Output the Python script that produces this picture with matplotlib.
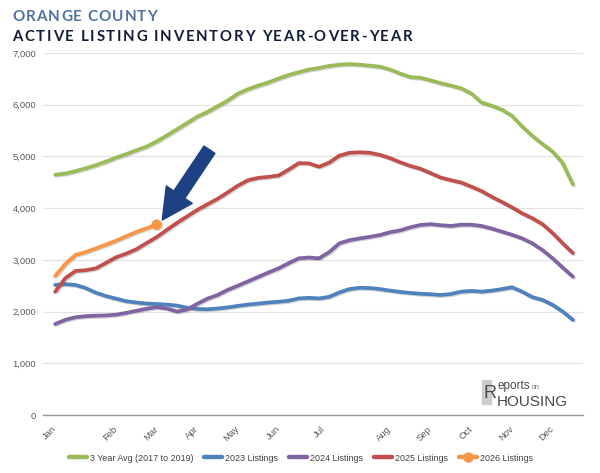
import numpy as np
import matplotlib
matplotlib.use('Agg')
import matplotlib.pyplot as plt
from matplotlib.patches import FancyArrowPatch, ArrowStyle, Rectangle
import matplotlib.patheffects as pe

# weekly active listings (week 0 = first week of Jan)
avg_3yr = [4645, 4670, 4715, 4770, 4830, 4900, 4975, 5045, 5120, 5190, 5290, 5405, 5525,
           5645, 5770, 5860, 5970, 6080, 6215, 6300, 6370, 6430, 6505, 6575, 6630, 6680,
           6710, 6750, 6775, 6785, 6775, 6755, 6735, 6680, 6600, 6535, 6520, 6470, 6415,
           6370, 6315, 6215, 6045, 5980, 5905, 5785, 5580, 5400, 5240, 5095, 4870, 4460]
listings_2023 = [2515, 2530, 2515, 2455, 2365, 2300, 2250, 2200, 2175, 2155, 2145, 2135, 2115,
                 2075, 2050, 2045, 2060, 2080, 2110, 2135, 2155, 2175, 2190, 2210, 2255, 2265,
                 2255, 2285, 2370, 2435, 2460, 2455, 2435, 2405, 2380, 2360, 2345, 2335, 2320,
                 2340, 2385, 2400, 2385, 2405, 2435, 2470, 2385, 2280, 2225, 2130, 2000, 1840]
listings_2024 = [1760, 1840, 1890, 1910, 1920, 1925, 1940, 1975, 2015, 2055, 2085, 2060, 2000,
                 2040, 2150, 2250, 2320, 2420, 2500, 2585, 2670, 2755, 2835, 2935, 3030, 3045,
                 3030, 3150, 3320, 3380, 3415, 3445, 3480, 3535, 3570, 3630, 3675, 3690, 3670,
                 3655, 3680, 3680, 3655, 3605, 3545, 3485, 3415, 3320, 3190, 3030, 2850, 2675]
listings_2025 = [2385, 2645, 2785, 2800, 2835, 2940, 3050, 3120, 3205, 3325, 3440, 3580, 3715,
                 3840, 3965, 4075, 4180, 4305, 4435, 4540, 4585, 4605, 4630, 4745, 4870, 4865,
                 4800, 4880, 5015, 5070, 5080, 5070, 5030, 4965, 4885, 4815, 4760, 4675, 4590,
                 4540, 4495, 4415, 4330, 4220, 4120, 4015, 3900, 3805, 3690, 3520, 3320, 3130]
listings_2026 = [2690, 2920, 3095, 3150, 3220, 3295, 3370, 3455, 3540, 3610, 3680]

months = ['Jan', 'Feb', 'Mar', 'Apr', 'May', 'Jun', 'Jul', 'Aug', 'Sep', 'Oct', 'Nov', 'Dec']
month_weeks = [0, 6, 10, 14, 18, 22, 26.5, 33, 37, 41, 45, 49]

series_names = ['3 Year Avg (2017 to 2019)', '2023 Listings', '2024 Listings',
                '2025 Listings', '2026 Listings']
colors = ['#9bbb59', '#4f81bd', '#8064a2', '#c0504d', '#f79646']

W, H = 600, 473
def fx(x):
    return x / W
def fy(y):
    return 1 - y / H

small_font = ['Liberation Sans', 'DejaVu Sans']
title_font = ['Lato', 'DejaVu Sans']

fig = plt.figure(figsize=(6, 4.73), dpi=100)
ax = fig.add_axes([fx(43), fy(415), fx(583) - fx(43), fy(53) - fy(415)])

shadow = [pe.SimpleLineShadow(offset=(0.8, -0.8), alpha=0.25, shadow_color='#555555'), pe.Normal()]
all_series = [avg_3yr, listings_2023, listings_2024, listings_2025]
for vals, name, c in zip(all_series, series_names[:4], colors[:4]):
    ax.plot(np.arange(len(vals)), vals, color=c, lw=2.7, label=name,
            solid_capstyle='round', path_effects=shadow, zorder=3)
ax.plot(np.arange(len(listings_2026)), listings_2026, color=colors[4], lw=2.7,
        label=series_names[4], marker='o', markevery=[len(listings_2026) - 1],
        markersize=6.5, solid_capstyle='round', path_effects=shadow, zorder=4)

ax.set_xlim(-1.2, 52.0)
ax.set_ylim(0, 7000)
ax.set_yticks(np.arange(0, 7001, 1000))
ax.set_yticklabels(['{:,}'.format(v) for v in range(0, 7001, 1000)])
ax.set_xticks(month_weeks)
ax.set_xticklabels(months, rotation=45, ha='right', va='center', rotation_mode='anchor')
ax.tick_params(axis='both', length=0, labelsize=6.8, labelcolor='#595959')
ax.tick_params(axis='y', pad=5)
ax.tick_params(axis='x', pad=9)
for lab in ax.get_xticklabels() + ax.get_yticklabels():
    lab.set_family(small_font)
ax.grid(axis='y', color='#e3e3e3', lw=0.9)
ax.set_axisbelow(True)
for s in ['top', 'right', 'left']:
    ax.spines[s].set_visible(False)
ax.spines['bottom'].set_color('#9a9a9a')
ax.spines['bottom'].set_linewidth(1.0)

# arrow pointing at the latest 2026 value
arrow = FancyArrowPatch((15.2, 5130), (10.55, 3770),
                        arrowstyle=ArrowStyle.Simple(head_length=22, head_width=22.5, tail_width=9.5),
                        mutation_scale=1, color='#1e4183', shrinkA=0, shrinkB=0, zorder=5)
ax.add_patch(arrow)

leg = fig.legend(loc='center', bbox_to_anchor=(fx(301), fy(458)), ncol=5, frameon=False,
                 handlelength=2.0, handletextpad=0.35, columnspacing=1.25,
                 prop={'family': small_font, 'size': 6.4})
for t in leg.get_texts():
    t.set_color('#404040')
for h in leg.legend_handles:
    h.set_linewidth(3.2)
    h.set_path_effects([])

# spaced titles
renderer = fig.canvas.get_renderer()
def spaced_text(s, x0, x1, yb, size, color):
    items = []
    for ch in s:
        t = fig.text(0, fy(yb), ch, fontsize=size, color=color, fontweight='bold',
                     family=title_font, va='baseline', ha='left')
        if ch == ' ':
            w = size * 1.389 * 0.25
        else:
            w = t.get_window_extent(renderer).width
        items.append((t, w))
    gap = (x1 - x0 - sum(w for _, w in items)) / (len(s) - 1)
    x = x0
    for t, w in items:
        t.set_x(fx(x))
        x += w + gap

spaced_text('ORANGE COUNTY', 12.5, 157, 20.7, 11, '#52719e')
spaced_text('ACTIVE LISTING INVENTORY YEAR-OVER-YEAR', 12.5, 412, 40.7, 10.7, '#0f1c38')

# logo
fig.patches.append(Rectangle((fx(482), fy(404)), fx(491) - fx(482), fy(380) - fy(404),
                             transform=fig.transFigure, color='#cdcdcd', zorder=1))
fig.text(fx(483), fy(398), 'R', fontsize=13, color='#4a4a4a', family='Liberation Sans',
         va='baseline', zorder=2)
fig.text(fx(497), fy(389), 'eports', fontsize=8.5, color='#4a4a4a', family='Liberation Sans',
         va='baseline')
fig.text(fx(532), fy(389), 'on', fontsize=5, color='#6a6a6a', family='Liberation Sans',
         va='baseline')
fig.text(fx(497), fy(405.5), 'HOUSING', fontsize=11, color='#4a4a4a', family='Liberation Sans',
         va='baseline')

fig.savefig('out.png', dpi=100)
